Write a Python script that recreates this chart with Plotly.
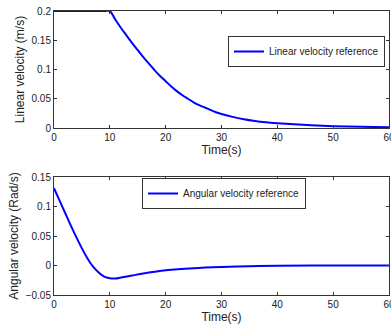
import plotly.graph_objects as go

# Top: linear velocity reference
t_lin = [0, 9, 10, 11, 12, 13, 14, 15, 16, 17, 18, 19, 20, 21, 22, 23, 24, 25, 26, 27, 28, 29, 30,
         32, 34, 36, 38, 40, 43, 46, 50, 55, 60]
v_lin = [0.2, 0.2, 0.2, 0.185, 0.171, 0.158, 0.145, 0.133, 0.121, 0.110, 0.099, 0.089, 0.080, 0.071, 0.063,
         0.056, 0.050, 0.044, 0.039, 0.035, 0.031, 0.027, 0.024,
         0.019, 0.015, 0.012, 0.0098, 0.0082, 0.0062, 0.0047, 0.0032, 0.0020, 0.0013]

# Bottom: angular velocity reference
t_ang = [0, 1, 2, 3, 4, 5, 6, 7, 8, 9, 10, 11, 12, 14, 16, 18, 20, 25, 30, 35, 40, 50, 60]
w_ang = [0.131, 0.110, 0.089, 0.068, 0.048, 0.029, 0.012, -0.002, -0.012, -0.019, -0.0215, -0.022,
         -0.0205, -0.017, -0.0135, -0.0105, -0.008, -0.0045, -0.0025, -0.0013, -0.0006, 0.0, 0.0]

x_ticks = [0, 10, 20, 30, 40, 50, 60]
y1_ticks = [0, 0.05, 0.1, 0.15, 0.2]
y2_ticks = [-0.05, 0, 0.05, 0.1, 0.15]

W, H = 391, 326
font = dict(family="Liberation Sans, Arial, sans-serif", size=10, color="#222")

fig = go.Figure()
fig.add_trace(go.Scatter(x=t_lin, y=v_lin, mode="lines",
                         line=dict(color="#0000ff", width=2, shape="spline", smoothing=0.8),
                         name="Linear velocity reference", xaxis="x", yaxis="y", legend="legend"))
fig.add_trace(go.Scatter(x=t_ang, y=w_ang, mode="lines", line=dict(color="#0000ff", width=2, shape="spline"),
                         name="Angular velocity reference", xaxis="x2", yaxis="y2", legend="legend2"))

xd = [54 / W, 389 / W]
ax_common = dict(showline=True, linecolor="#333", linewidth=1, mirror="ticks", ticks="inside",
                 ticklen=3, tickcolor="#333", showgrid=False, zeroline=False,
                 ticklabeloverflow="allow", automargin=False,
                 tickfont=dict(size=10, color="#222"))

fig.update_layout(
    template="none",
    width=W, height=H,
    margin=dict(l=0, r=0, t=0, b=0, pad=0),
    paper_bgcolor="white", plot_bgcolor="white",
    font=font,
    xaxis=dict(domain=xd, anchor="y", range=[0, 60], tickvals=x_ticks,
               title=dict(text="Time(s)", font=dict(size=12), standoff=0), **ax_common),
    yaxis=dict(domain=[1 - 128 / H, 1 - 11 / H], anchor="x", range=[0, 0.2], tickvals=y1_ticks,
               ticktext=["0", "0.05", "0.1", "0.15", "0.2"],
               title=dict(text="Linear velocity (m/s)", font=dict(size=12), standoff=4), **ax_common),
    xaxis2=dict(domain=xd, anchor="y2", range=[0, 60], tickvals=x_ticks,
                title=dict(text="Time(s)", font=dict(size=12), standoff=0), **ax_common),
    yaxis2=dict(domain=[1 - 295 / H, 1 - 177 / H], anchor="x2", range=[-0.05, 0.15], tickvals=y2_ticks,
                ticktext=["\u22120.05", "0", "0.05", "0.1", "0.15"],
                title=dict(text="Angular velocity (Rad/s)", font=dict(size=12), standoff=4), **ax_common),
    legend=dict(x=228 / W, y=1 - 36 / H, xanchor="left", yanchor="top", bgcolor="white",
                bordercolor="#333", borderwidth=1, font=dict(size=10, color="#222"),
                itemwidth=30, tracegroupgap=0),
    legend2=dict(x=142 / W, y=1 - 178 / H, xanchor="left", yanchor="top", bgcolor="white",
                 bordercolor="#333", borderwidth=1, font=dict(size=10, color="#222"),
                 itemwidth=30, tracegroupgap=0),
    showlegend=True,
)

fig.write_html("out.html")
